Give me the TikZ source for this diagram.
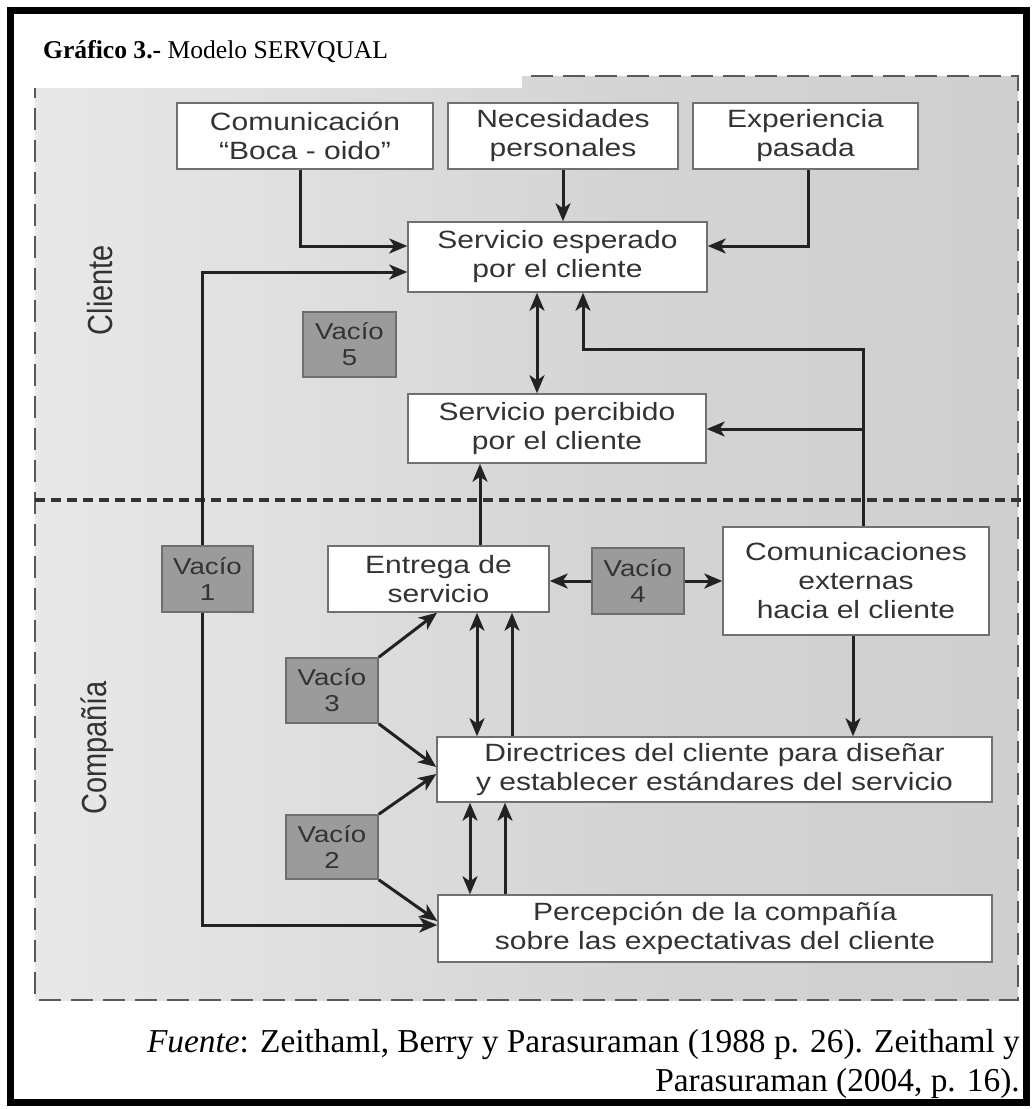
\documentclass[tikz,border=0pt]{standalone}
\usepackage{fontspec}
\setmainfont{Liberation Serif}
\newfontfamily\boxfont[FakeStretch=1.2]{Liberation Sans}
\newfontfamily\labfont{Liberation Sans}
\usetikzlibrary{arrows.meta,calc}
\definecolor{boxline}{HTML}{707070}
\definecolor{gapfill}{HTML}{9B9B9B}
\definecolor{gapline}{HTML}{6E6E6E}
\definecolor{txt}{HTML}{333333}
\definecolor{linec}{HTML}{222222}
\definecolor{pc0}{HTML}{F9F9F9}
\definecolor{pc1}{HTML}{EDEDED}
\definecolor{pc2}{HTML}{D4D4D4}
\definecolor{pc3}{HTML}{C8C8C8}
\pgfdeclarehorizontalshading{panelshade}{100bp}{color(0bp)=(pc0); color(18bp)=(pc1); color(55bp)=(pc2); color(100bp)=(pc3)}
\tikzset{
  box/.style={draw=boxline, fill=white, line width=1.5pt, inner sep=0pt, align=center,
    font=\boxfont\fontsize{25}{29}\selectfont, text=txt},
  gapbox/.style={draw=gapline, fill=gapfill, line width=1.5pt, inner sep=0pt, align=center,
    font=\boxfont\fontsize{23}{26}\selectfont, text=txt},
  conn/.style={draw=linec, line width=3pt},
  arr/.style={conn, -{Stealth[length=18pt,width=15pt,inset=5pt]}},
  darr/.style={conn, {Stealth[length=18pt,width=15pt,inset=5pt]}-{Stealth[length=18pt,width=15pt,inset=5pt]}},
  sidelabel/.style={rotate=90, font=\labfont\fontsize{29}{32}\selectfont, text=txt, inner sep=0pt},
  sep/.style={draw=black!80, line width=4pt, dash pattern=on 10pt off 6pt},
  panelborder/.style={draw=black!65, line width=2.5pt, dash pattern=on 22pt off 10pt}
}
\begin{document}
\begin{tikzpicture}[x=1pt,y=-1pt]
\useasboundingbox (0,0) rectangle (1035,1109);
\fill[white] (0,0) rectangle (1035,1109);
% panel
\shade[shading=panelshade] (35,76) rectangle (1018,1000);
\draw[panelborder] (35,76) rectangle (1018,1000);
% white title area
\fill[white] (14,14) rectangle (522,88);
% separator
\draw[sep] (35,500) -- (1030,500);
% outer frame
\draw[black, line width=7pt] (10,10) rectangle (1026,1102);
% title
\node[anchor=base west, inner sep=0pt, font=\fontsize{25.6}{30}\selectfont] (title) at (43,58) {\textbf{Gráfico 3.-} Modelo SERVQUAL};
% side labels
\node[sidelabel] (cliente) at (100,290) {\scalebox{1}[1.2]{Cliente}};
\node[sidelabel] (compania) at (97,748) {\scalebox{1}[1.2]{Compañía}};
% boxes
\node[box, minimum width=256pt, minimum height=66pt] (com) at (305,136) {Comunicación\\“Boca - oido”};
\node[box, minimum width=230pt, minimum height=66pt] (nec) at (563,136) {Necesidades\\personales};
\node[box, minimum width=225pt, minimum height=66pt] (exp) at (805.5,136) {Experiencia\\pasada};
\node[box, minimum width=299pt, minimum height=70pt] (esp) at (557.5,257) {Servicio esperado\\por el cliente};
\node[gapbox, minimum width=93pt, minimum height=65pt] (v5) at (349.5,344.5) {Vacío\\5};
\node[box, minimum width=298pt, minimum height=69pt] (per) at (557,428.5) {Servicio percibido\\por el cliente};
\node[gapbox, minimum width=91pt, minimum height=66pt] (v1) at (207.5,579) {Vacío\\1};
\node[box, minimum width=221pt, minimum height=66pt] (ent) at (438.5,579) {Entrega de\\servicio};
\node[gapbox, minimum width=92pt, minimum height=66pt] (v4) at (638,581) {Vacío\\4};
\node[box, minimum width=266pt, minimum height=108pt] (cex) at (856,581) {Comunicaciones\\externas\\hacia el cliente};
\node[gapbox, minimum width=92pt, minimum height=65pt] (v3) at (332,690.5) {Vacío\\3};
\node[box, minimum width=555pt, minimum height=65pt] (dir) at (714.5,769.5) {Directrices del cliente para diseñar\\y establecer estándares del servicio};
\node[gapbox, minimum width=92pt, minimum height=64pt] (v2) at (332,847) {Vacío\\2};
\node[box, minimum width=554pt, minimum height=67pt] (pcp) at (715,928.5) {Percepción de la compañía\\sobre las expectativas del cliente};
% junction coordinates
\coordinate (k1) at (300,246);
\coordinate (k2) at (808,246);
\coordinate (k3) at (202,272);
\coordinate (k4) at (202,925);
\coordinate (k5) at (537,0);
\coordinate (k6) at (863,349);
\coordinate (k7) at (583,349);
\coordinate (k8) at (863,429);
\coordinate (k9) at (480,0);
\coordinate (k10) at (853,0);
\coordinate (k11) at (437,0);
\coordinate (k12) at (0,767);
\coordinate (k13) at (0,774);
\coordinate (k14) at (0,921);
\coordinate (k15) at (477,0);
\coordinate (k16) at (512,0);
\coordinate (k17) at (470,0);
\coordinate (k18) at (505,0);
% connectors
\draw[arr] (com.south -| k1) |- (esp.west |- k1);
\draw[arr] (nec.south) -- (nec.south |- esp.north);
\draw[arr] (exp.south -| k2) |- (esp.east |- k2);
\draw[arr] (v1.north -| k3) |- (esp.west |- k3);
\draw[arr] (v1.south -| k4) |- (pcp.west |- k4);
\draw[darr] (esp.south -| k5) -- (per.north -| k5);
\draw[arr] (cex.north -| k6) -- (k6) -| (esp.south -| k7);
\draw[arr] (k8) -- (per.east |- k8);
\draw[arr] (ent.north -| k9) -- (per.south -| k9);
\draw[arr] (v4.west) -- (ent.east |- v4.west);
\draw[arr] (v4.east) -- (cex.west |- v4.east);
\draw[arr] (cex.south -| k10) -- (dir.north -| k10);
\draw[arr] (v3.north east) -- (ent.south -| k11);
\draw[arr] (v3.south east) -- (dir.west |- k12);
\draw[arr] (v2.north east) -- (dir.west |- k13);
\draw[arr] (v2.south east) -- (pcp.west |- k14);
\draw[darr] (ent.south -| k15) -- (dir.north -| k15);
\draw[arr] (dir.north -| k16) -- (ent.south -| k16);
\draw[darr] (dir.south -| k17) -- (pcp.north -| k17);
\draw[arr] (pcp.north -| k18) -- (dir.south -| k18);
% source
\node[anchor=base east, inner sep=0pt, font=\fontsize{33.4}{38}\selectfont] (src1) at (1020,1052) {\textit{Fuente}: Zeithaml, Berry y Parasuraman (1988 p. 26). Zeithaml y};
\node[anchor=base east, inner sep=0pt, font=\fontsize{33.4}{38}\selectfont] (src2) at (1020,1091) {Parasuraman (2004, p. 16).};
\end{tikzpicture}
\end{document}
